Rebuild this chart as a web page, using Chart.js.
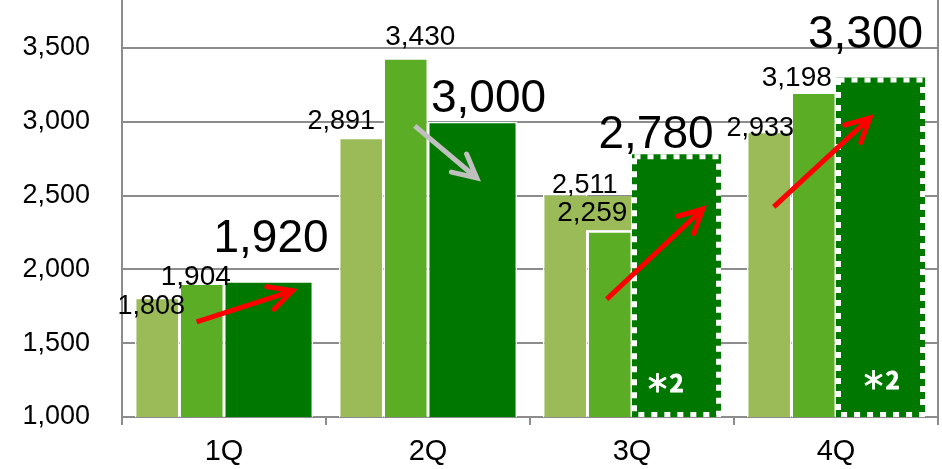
<!DOCTYPE html>
<html>
<head>
<meta charset="utf-8">
<script src="https://cdn.jsdelivr.net/npm/chart.js@4.4.0/dist/chart.umd.min.js"></script>
<style>
  html, body { margin: 0; padding: 0; background: #fff; }
  #wrap { width: 942px; height: 469px; position: relative; }
</style>
</head>
<body>
<div id="wrap"><canvas id="c"></canvas></div>
<script>
// ---- data ----
const categories = ['1Q', '2Q', '3Q', '4Q'];
const seriesA = [1808, 2891, 2511, 2933];   // light green
const seriesB = [1904, 3430, 2259, 3198];   // mid green
const seriesC = [1920, 3000, 2780, 3300];   // dark green (forecast)
const projected = [false, false, true, true]; // dashed outline bars
const projectedNote = '＊2';
const yTicks = [1000, 1500, 2000, 2500, 3000, 3500];

// ---- annotation layout (label nudges in px relative to bar top) ----
const nudgeA = [[-6, 7], [-20, -19], [19.5, -11], [-9, -5]];
const nudgeB = [[-6, -9], [14.5, -23], [-17.5, -20], [-17, -17]];
const nudgeC = [[2.5, -45.5], [16, -26], [-20.5, -23], [-15, -46]];
const labelBgB = [null, null, '#9BBB59', null];
const noteNudge = [null, null, [-12, -34], [0, -37]];
// arrows: category index, start [fraction of category, value], end [fraction, value]
const arrows = [
  { cat: 0, from: [-0.134, 1645], to: [0.336, 1855], color: '#FF0000' },
  { cat: 1, from: [-0.065, 2972], to: [0.239, 2619], color: '#C0C0C0' },
  { cat: 2, from: [-0.124, 1799], to: [0.347, 2409], color: '#FF0000' },
  { cat: 3, from: [-0.305, 2423], to: [0.166, 3026], color: '#FF0000' }
];

const GRID = '#8c8c8c';
const FONT = '"Liberation Sans", Arial, sans-serif';
const fmt = v => v.toLocaleString('en-US');

const annotate = {
  id: 'annotate',
  afterDatasetsDraw(chart) {
    const ctx = chart.ctx;
    const xs = chart.scales.x, ys = chart.scales.y;
    const basePx = ys.getPixelForValue(ys.min);
    const metaC = chart.getDatasetMeta(2);
    // dashed outlines on forecast bars
    metaC.data.forEach((bar, i) => {
      if (!projected[i]) return;
      const bx = bar.x, by = bar.y, bw = bar.width;
      ctx.save();
      ctx.strokeStyle = '#ffffff';
      ctx.lineWidth = 5;
      ctx.setLineDash([6, 7]);
      ctx.strokeRect(bx - bw / 2 + 2.5, by + 2.5, bw - 5, basePx - by - 5);
      ctx.restore();
    });

    // value labels
    const drawLabels = (dsIndex, values, nudges, size, bgs) => {
      const meta = chart.getDatasetMeta(dsIndex);
      meta.data.forEach((bar, i) => {
        const cx = bar.x + nudges[i][0];
        const cy = bar.y + nudges[i][1];
        const text = fmt(values[i]);
        ctx.save();
        ctx.font = size + 'px ' + FONT;
        ctx.textAlign = 'center';
        ctx.textBaseline = 'alphabetic';
        if (bgs && bgs[i]) {
          const w = ctx.measureText(text).width;
          ctx.fillStyle = bgs[i];
          ctx.fillRect(cx - w / 2 - 4, cy - 15, w + 8, 34);
        }
        ctx.fillStyle = '#000000';
        ctx.fillText(text, cx, cy + size * 0.358);
        ctx.restore();
      });
    };
    drawLabels(0, seriesA, nudgeA, 27, null);
    drawLabels(1, seriesB, nudgeB, 28, labelBgB);
    drawLabels(2, seriesC, nudgeC, 46, null);

    // notes inside forecast bars
    metaC.data.forEach((bar, i) => {
      if (!projected[i]) return;
      const n = noteNudge[i];
      ctx.save();
      ctx.fillStyle = '#ffffff';
      ctx.strokeStyle = '#ffffff';
      ctx.lineWidth = 0.8;
      ctx.font = 'bold 24px "Noto Sans CJK JP"';
      ctx.textAlign = 'center';
      ctx.textBaseline = 'alphabetic';
      ctx.fillText(projectedNote, bar.x + n[0], basePx + n[1] + 9);
      ctx.strokeText(projectedNote, bar.x + n[0], basePx + n[1] + 9);
      ctx.restore();
    });

    // arrows
    const catW = xs.getPixelForValue(1) - xs.getPixelForValue(0);
    arrows.forEach(a => {
      const cx = xs.getPixelForValue(a.cat);
      const x1 = cx + a.from[0] * catW, y1 = ys.getPixelForValue(a.from[1]);
      const x2 = cx + a.to[0] * catW, y2 = ys.getPixelForValue(a.to[1]);
      const ang = Math.atan2(y2 - y1, x2 - x1);
      const hl = 26, ha = 27 * Math.PI / 180;
      ctx.save();
      ctx.strokeStyle = a.color;
      ctx.lineWidth = 5;
      ctx.lineCap = 'butt';
      ctx.lineJoin = 'miter';
      ctx.beginPath();
      ctx.moveTo(x1, y1);
      ctx.lineTo(x2, y2);
      ctx.stroke();
      ctx.lineCap = 'round';
      ctx.beginPath();
      ctx.moveTo(x2 - hl * Math.cos(ang - ha), y2 - hl * Math.sin(ang - ha));
      ctx.lineTo(x2, y2);
      ctx.lineTo(x2 - hl * Math.cos(ang + ha), y2 - hl * Math.sin(ang + ha));
      ctx.stroke();
      ctx.restore();
    });
  }
};

new Chart(document.getElementById('c'), {
  type: 'bar',
  data: {
    labels: categories,
    datasets: [
      { label: 'A', data: seriesA, backgroundColor: '#9BBB59', borderColor: '#ffffff', borderWidth: 1.5,
        categoryPercentage: 0.873, barPercentage: 1 },
      { label: 'B', data: seriesB, backgroundColor: '#5BAD26', borderColor: '#ffffff', borderWidth: 1.5,
        categoryPercentage: 0.873, barPercentage: 1 },
      { label: 'C', data: seriesC, backgroundColor: '#007800', borderColor: '#ffffff',
        borderWidth: ctx => projected[ctx.dataIndex] ? 0 : 1.5,
        categoryPercentage: 1.746, barPercentage: 1 },
      { label: 'spacer', data: categories.map(() => null), backgroundColor: 'rgba(0,0,0,0)',
        categoryPercentage: 0.873, barPercentage: 1 }
    ]
  },
  options: {
    responsive: true,
    maintainAspectRatio: false,
    animation: false,
    locale: 'en-US',
    layout: { padding: { left: 0, right: 0, top: 0, bottom: 0 } },
    plugins: { legend: { display: false }, tooltip: { enabled: false } },
    scales: {
      x: {
        type: 'category',
        offset: true,
        grid: { display: true, drawOnChartArea: false, drawTicks: true, tickLength: 8, color: GRID, lineWidth: 2, offset: true },
        border: { display: true, color: GRID, width: 2 },
        ticks: { color: '#000', font: { family: FONT, size: 29 }, padding: 10 },
        afterFit: s => { s.height = 52; s.paddingLeft = 0; s.paddingRight = 0; }
      },
      y: {
        min: 1000,
        max: 3825,
        afterBuildTicks: s => { s.ticks = yTicks.map(v => ({ value: v })); },
        grid: { color: GRID, lineWidth: 2, drawTicks: false },
        border: { display: true, color: GRID, width: 2 },
        ticks: { color: '#000', font: { family: FONT, size: 27 }, padding: 32, callback: v => fmt(v) },
        afterFit: s => { s.width = 122; s.paddingTop = 0; s.paddingBottom = 0; }
      },
      y2: {
        position: 'right',
        display: true,
        grid: { display: false },
        ticks: { display: false },
        border: { display: true, color: GRID, width: 2 },
        afterFit: s => { s.width = 4; s.paddingTop = 0; s.paddingBottom = 0; }
      }
    }
  },
  plugins: [annotate]
});
</script>
</body>
</html>
